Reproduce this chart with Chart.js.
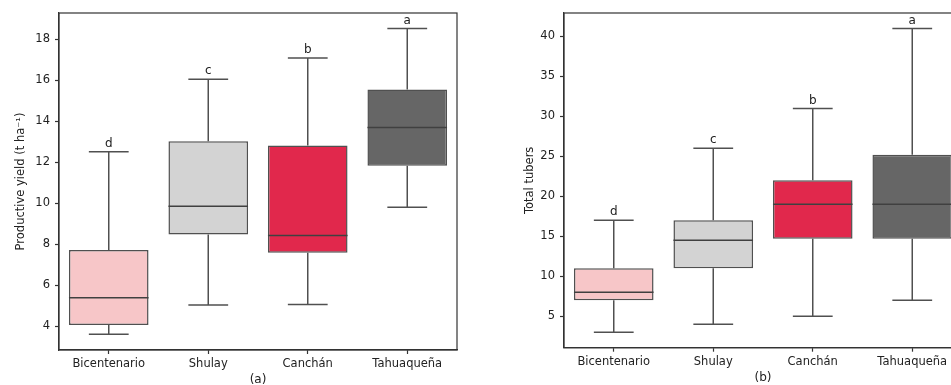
<!DOCTYPE html>
<html>
<head>
<meta charset="utf-8">
<script src="https://cdn.jsdelivr.net/npm/chart.js@4.4.0/dist/chart.umd.min.js"></script>
<style>
    html, body { margin: 0; padding: 0; background: #fff; overflow: hidden; }
    body { width: 951px; height: 385px; position: relative; }
    #wrapA { position: absolute; left: 0; top: 0; width: 476px; height: 385px; }
    #wrapB { position: absolute; left: 480px; top: 0; width: 500px; height: 385px; }
</style>
</head>
<body>
<div id="wrapA"><canvas id="chartA"></canvas></div>
<div id="wrapB"><canvas id="chartB"></canvas></div>
<script>
// Variedades
const variedades = ['Bicentenario', 'Shulay', 'Canchán', 'Tahuaqueña'];
const colores = ['#f7c6c8', '#d3d3d3', '#e1284c', '#666666'];

// (a) Rendimiento productivo (t ha-1)
const rendMin = [3.61, 5.04, 5.07, 9.81];
const rendQ1 = [4.07, 8.48, 7.59, 11.83];
const rendMediana = [5.39, 9.85, 8.43, 13.70];
const rendQ3 = [7.72, 13.02, 12.82, 15.55];
const rendMax = [12.51, 16.05, 17.09, 18.52];
const rendLetras = ['d', 'c', 'b', 'a'];
const rendTicks = [4, 6, 8, 10, 12, 14, 16, 18];

// (b) Tubérculos totales
const tubMin = [3, 4, 5, 7];
const tubQ1 = [7, 11, 14.7, 14.7];
const tubMediana = [8, 14.5, 19, 19];
const tubQ3 = [11, 17, 22, 25.2];
const tubMax = [17, 26, 31, 41];
const tubLetras = ['d', 'c', 'b', 'a'];
const tubTicks = [5, 10, 15, 20, 25, 30, 35, 40];

const FUENTE = 'DejaVu Sans';
const COLOR_LINEA = '#505050';
const COLOR_EJE = '#333333';

// Dibuja bigotes, medianas, letras y el marco
const cajaPlugin = {
    id: 'cajas',
    afterDatasetsDraw(chart) {
        const extra = chart.options.plugins.cajas;
        const ctx = chart.ctx;
        const x = chart.scales.x;
        const y = chart.scales.y;
        const meta = chart.getDatasetMeta(0);
        ctx.save();
        ctx.strokeStyle = COLOR_LINEA;
        ctx.lineWidth = 1.5;
        variedades.forEach((v, i) => {
            const cx = x.getPixelForValue(i);
            const mitad = meta.data[i].width / 2;
            const tapa = mitad / 2;
            const yMin = y.getPixelForValue(extra.min[i]);
            const yQ1 = y.getPixelForValue(extra.q1[i]);
            const yMed = y.getPixelForValue(extra.mediana[i]);
            const yQ3 = y.getPixelForValue(extra.q3[i]);
            const yMax = y.getPixelForValue(extra.max[i]);
            ctx.beginPath();
            ctx.moveTo(cx, yQ3); ctx.lineTo(cx, yMax);
            ctx.moveTo(cx - tapa, yMax); ctx.lineTo(cx + tapa, yMax);
            ctx.moveTo(cx, yQ1); ctx.lineTo(cx, yMin);
            ctx.moveTo(cx - tapa, yMin); ctx.lineTo(cx + tapa, yMin);
            ctx.stroke();

            ctx.beginPath();
            ctx.strokeStyle = '#404040';
            ctx.moveTo(cx - mitad, yMed); ctx.lineTo(cx + mitad, yMed);
            ctx.stroke();
            ctx.strokeStyle = COLOR_LINEA;

            ctx.fillStyle = '#222';
            ctx.font = '12px "' + FUENTE + '"';
            ctx.textAlign = 'center';
            ctx.textBaseline = 'bottom';
            ctx.fillText(extra.letras[i], cx, yMax - 2);
        });
        const a = chart.chartArea;
        ctx.strokeStyle = COLOR_EJE;
        ctx.lineWidth = 1.2;
        ctx.strokeRect(a.left, a.top, a.right - a.left, a.bottom - a.top);
        ctx.restore();
    }
};

function crearGrafica(id, cfg) {
    const ctx = document.getElementById(id).getContext('2d');
    return new Chart(ctx, {
        type: 'bar',
        data: {
            labels: variedades,
            datasets: [{
                data: cfg.q1.map((q, i) => [q, cfg.q3[i]]),
                backgroundColor: colores,
                borderColor: COLOR_LINEA,
                borderWidth: 1.5,
                borderSkipped: false,
                barPercentage: 0.8,
                categoryPercentage: 1.0
            }]
        },
        options: {
            responsive: true,
            maintainAspectRatio: false,
            animation: false,
            layout: { padding: { top: cfg.top, right: cfg.right, left: 0, bottom: 0 } },
            plugins: {
                legend: { display: false },
                tooltip: { enabled: false },
                cajas: cfg
            },
            scales: {
                x: {
                    offset: true,
                    grid: { display: true, offset: false, drawOnChartArea: false, tickLength: 4, tickColor: COLOR_EJE, tickWidth: 1.2 },
                    border: { display: true, color: COLOR_EJE, width: 1.2 },
                    ticks: { color: '#222', padding: 3, font: { family: FUENTE, size: 11.5 } },
                    title: {
                        display: true,
                        text: cfg.tituloX,
                        color: '#222',
                        font: { family: FUENTE, size: 12 },
                        padding: { top: 0, bottom: cfg.tituloXpad }
                    },
                    afterFit: (s) => { s.height = cfg.altoX; }
                },
                y: {
                    min: cfg.ymin,
                    max: cfg.ymax,
                    afterBuildTicks: (s) => { s.ticks = cfg.ticks.map(v => ({ value: v })); },
                    grid: { display: true, drawOnChartArea: false, tickLength: 4, tickColor: COLOR_EJE, tickWidth: 1.2 },
                    border: { display: true, color: COLOR_EJE, width: 1.2 },
                    ticks: { color: '#222', padding: 5, font: { family: FUENTE, size: 11.5 } },
                    title: {
                        display: true,
                        text: cfg.tituloY,
                        color: '#222',
                        font: { family: FUENTE, size: 11.5 },
                        padding: { top: cfg.tituloYpad, bottom: 0 }
                    },
                    afterFit: (s) => { s.width = cfg.anchoY; }
                }
            }
        },
        plugins: [cajaPlugin]
    });
}

document.addEventListener('DOMContentLoaded', () => {
    crearGrafica('chartA', {
        min: rendMin, q1: rendQ1, mediana: rendMediana, q3: rendQ3, max: rendMax,
        letras: rendLetras, ticks: rendTicks,
        ymin: 2.845, ymax: 19.28,
        tituloX: '(a)', tituloY: 'Productive yield (t ha⁻¹)',
        top: 13, right: 19, anchoY: 59, altoX: 35,
        tituloXpad: -2, tituloYpad: 14.4
    });
    crearGrafica('chartB', {
        min: tubMin, q1: tubQ1, mediana: tubMediana, q3: tubQ3, max: tubMax,
        letras: tubLetras, ticks: tubTicks,
        ymin: 1.07, ymax: 42.93,
        tituloX: '(b)', tituloY: 'Total tubers',
        top: 13, right: 18, anchoY: 84, altoX: 37.3,
        tituloXpad: 0, tituloYpad: 43.4
    });
});
</script>
</body>
</html>
